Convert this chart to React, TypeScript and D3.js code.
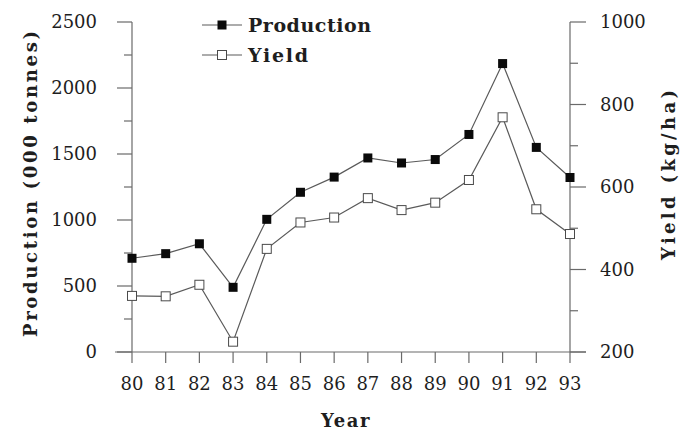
import React from "react";
import * as d3 from "d3";

// Annual production ('000 tonnes) and yield (kg/ha), 1980–1993
const years: string[] = ["80", "81", "82", "83", "84", "85", "86", "87", "88", "89", "90", "91", "92", "93"];
const production: number[] = [710, 745, 820, 490, 1005, 1210, 1325, 1470, 1432, 1458, 1648, 2185, 1550, 1322];
const yieldKgHa: number[] = [336, 335, 363, 225, 450, 514, 526, 573, 544, 562, 617, 769, 546, 486];

const leftTicks: number[] = [0, 500, 1000, 1500, 2000, 2500];
const leftMinor: number[] = [250, 750, 1250, 1750, 2250];
const rightTicks: number[] = [200, 400, 600, 800, 1000];
const rightMinor: number[] = [300, 500, 700, 900];

const W = 682;
const H = 430;
const X0 = 132;
const X1 = 570;
const YTOP = 22;
const YBOT = 352;

const FONT = "'DejaVu Serif', 'Liberation Serif', serif";
const INK = "#1e1e1e";
const AXIS = "#6a6a6a";
const LINE = "#5a5a5a";

export default function App() {
  const x = d3.scalePoint<string>().domain(years).range([X0, X1]);
  const yL = d3.scaleLinear().domain([0, 2500]).range([YBOT, YTOP]);
  const yR = d3.scaleLinear().domain([200, 1000]).range([YBOT, YTOP]);

  const prodLine = d3
    .line<number>()
    .x((_, i) => x(years[i]) as number)
    .y((d) => yL(d));
  const yieldLine = d3
    .line<number>()
    .x((_, i) => x(years[i]) as number)
    .y((d) => yR(d));

  const M = 9; // marker size

  return (
    <svg
      width={W}
      height={H}
      viewBox={`0 0 ${W} ${H}`}
      style={{ position: "absolute", left: 0, top: 0, background: "#fff" }}
    >
      <rect width={W} height={H} fill="#fff" />

      {/* left axis */}
      <line x1={X0} x2={X0} y1={yL(2500)} y2={YBOT} stroke={AXIS} strokeWidth={1.2} />
      {leftTicks.map((t) => (
        <g key={`lt${t}`}>
          <line x1={X0 - 15} x2={X0} y1={yL(t)} y2={yL(t)} stroke={AXIS} strokeWidth={1.2} />
          <text
            x={97}
            y={yL(t)}
            dy="0.36em"
            textAnchor="end"
            fontFamily={FONT}
            fontSize={18}
            fill={INK}
          >
            {t}
          </text>
        </g>
      ))}
      {leftMinor.map((t) => (
        <line key={`lm${t}`} x1={X0 - 8} x2={X0} y1={yL(t)} y2={yL(t)} stroke={AXIS} strokeWidth={1.2} />
      ))}

      {/* right axis */}
      <line x1={X1} x2={X1} y1={yR(1000)} y2={YBOT} stroke={AXIS} strokeWidth={1.2} />
      {rightTicks.map((t) => (
        <g key={`rt${t}`}>
          <line x1={X1} x2={X1 + 16} y1={yR(t)} y2={yR(t)} stroke={AXIS} strokeWidth={1.2} />
          <text
            x={600}
            y={yR(t)}
            dy="0.36em"
            textAnchor="start"
            fontFamily={FONT}
            fontSize={18}
            fill={INK}
          >
            {t}
          </text>
        </g>
      ))}
      {rightMinor.map((t) => (
        <line key={`rm${t}`} x1={X1} x2={X1 + 8} y1={yR(t)} y2={yR(t)} stroke={AXIS} strokeWidth={1.2} />
      ))}

      {/* x axis */}
      <line x1={X0 - 17} x2={X1 + 16} y1={YBOT} y2={YBOT} stroke={AXIS} strokeWidth={1.2} />
      {years.map((yr) => (
        <g key={`xt${yr}`}>
          <line
            x1={x(yr) as number}
            x2={x(yr) as number}
            y1={YBOT}
            y2={YBOT + 11}
            stroke={AXIS}
            strokeWidth={1.2}
          />
          <text
            x={x(yr) as number}
            y={390}
            textAnchor="middle"
            fontFamily={FONT}
            fontSize={18}
            fill={INK}
          >
            {yr}
          </text>
        </g>
      ))}

      {/* axis titles */}
      <text
        x={346}
        y={427}
        textAnchor="middle"
        fontFamily={FONT}
        fontWeight="bold"
        fontSize={18}
        fill={INK}
        letterSpacing={1.5}
      >
        Year
      </text>
      <text
        transform="translate(37,184) rotate(-90)"
        textAnchor="middle"
        fontFamily={FONT}
        fontWeight="bold"
        fontSize={18}
        fill={INK}
        textLength={306}
        lengthAdjust="spacing"
      >
        Production (000 tonnes)
      </text>
      <text
        transform="translate(675,175) rotate(-90)"
        textAnchor="middle"
        fontFamily={FONT}
        fontWeight="bold"
        fontSize={18}
        fill={INK}
        textLength={170}
        lengthAdjust="spacing"
      >
        Yield (kg/ha)
      </text>

      {/* series lines */}
      <path d={prodLine(production) || ""} fill="none" stroke={LINE} strokeWidth={1.2} />
      <path d={yieldLine(yieldKgHa) || ""} fill="none" stroke={LINE} strokeWidth={1.2} />

      {/* markers */}
      {production.map((v, i) => (
        <rect
          key={`pm${i}`}
          x={(x(years[i]) as number) - M / 2}
          y={yL(v) - M / 2}
          width={M}
          height={M}
          fill="#0a0a0a"
        />
      ))}
      {yieldKgHa.map((v, i) => (
        <rect
          key={`ym${i}`}
          x={(x(years[i]) as number) - M / 2}
          y={yR(v) - M / 2}
          width={M}
          height={M}
          fill="#fff"
          stroke="#4a4a4a"
          strokeWidth={1}
        />
      ))}

      {/* legend */}
      <line x1={202} x2={242} y1={25} y2={25} stroke={LINE} strokeWidth={1.2} />
      <rect x={222 - M / 2} y={25 - M / 2} width={M} height={M} fill="#0a0a0a" />
      <text
        x={248}
        y={32}
        fontFamily={FONT}
        fontWeight="bold"
        fontSize={19}
        fill={INK}
        textLength={123}
        lengthAdjust="spacing"
      >
        Production
      </text>
      <line x1={202} x2={242} y1={55} y2={55} stroke={LINE} strokeWidth={1.2} />
      <rect x={222 - M / 2} y={55 - M / 2} width={M} height={M} fill="#fff" stroke="#4a4a4a" strokeWidth={1} />
      <text
        x={248}
        y={62}
        fontFamily={FONT}
        fontWeight="bold"
        fontSize={19}
        fill={INK}
        textLength={60}
        lengthAdjust="spacing"
      >
        Yield
      </text>
    </svg>
  );
}
